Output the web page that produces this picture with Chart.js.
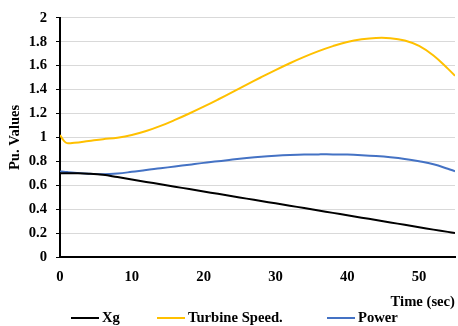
<!DOCTYPE html>
<html>
<head>
<meta charset="utf-8">
<script src="https://cdn.jsdelivr.net/npm/chart.js@4"></script>
<style>
  html, body { margin: 0; padding: 0; background: #fff; }
  #wrap { position: relative; width: 458px; height: 326px; }
  #chartBox { width: 458px; height: 311px; }
  #legend { position: absolute; left: 0; top: 309px; width: 458px; height: 17px;
            font: bold 14.67px 'Liberation Serif', 'Times New Roman', serif; color: #000; }
  .item { position: absolute; top: 0; height: 17px; display: flex; align-items: center; white-space: nowrap; }
  .swatch { width: 28px; height: 2px; margin-right: 3px; }
</style>
</head>
<body>
<div id="wrap">
  <div id="chartBox"><canvas id="myChart"></canvas></div>
  <div id="legend"></div>
</div>
<script>
// 시간축 (sec)
const times = [0, 0.5, 1, 2, 4, 6, 8, 10, 12, 14, 16, 18, 20, 22, 24, 26, 28, 30, 32, 34, 36, 38, 40, 42, 44, 46, 48, 50, 52, 54, 55];
// 각 시리즈 값 (Pu)
const xgValues = [0.70, 0.70, 0.70, 0.70, 0.697, 0.688, 0.668, 0.648, 0.628, 0.608, 0.588, 0.568, 0.548, 0.528, 0.508, 0.488, 0.468, 0.449, 0.429, 0.409, 0.389, 0.369, 0.349, 0.329, 0.309, 0.289, 0.269, 0.249, 0.229, 0.21, 0.20];
const speedValues = [1.02, 0.975, 0.952, 0.955, 0.97, 0.985, 0.998, 1.02, 1.053, 1.096, 1.146, 1.20, 1.257, 1.317, 1.379, 1.441, 1.503, 1.563, 1.62, 1.673, 1.721, 1.763, 1.798, 1.82, 1.832, 1.83, 1.81, 1.765, 1.685, 1.575, 1.515];
const powerValues = [0.715, 0.713, 0.71, 0.705, 0.697, 0.692, 0.698, 0.712, 0.728, 0.742, 0.757, 0.772, 0.787, 0.80, 0.815, 0.828, 0.839, 0.847, 0.853, 0.857, 0.858, 0.858, 0.856, 0.851, 0.844, 0.834, 0.82, 0.80, 0.775, 0.738, 0.717];
const seriesNames = ['Xg', 'Turbine Speed.', 'Power'];
const seriesColors = ['#000000', '#FFC000', '#4472C4'];
const yTicks = [0, 0.2, 0.4, 0.6, 0.8, 1, 1.2, 1.4, 1.6, 1.8, 2];
// 범례 항목 왼쪽 위치 (px)
const legendLeft = [71, 157, 327];

const toPoints = vals => vals.map((v, i) => ({ x: times[i], y: v }));
const font = size => ({ family: "'Liberation Serif', 'Times New Roman', serif", size, weight: 'bold' });

const ctx = document.querySelector('#myChart').getContext('2d');
const chart = new Chart(ctx, {
    type: 'line',
    data: {
        datasets: [xgValues, speedValues, powerValues].map((vals, i) => ({
            label: seriesNames[i],
            data: toPoints(vals),
            borderColor: seriesColors[i],
            backgroundColor: seriesColors[i],
            borderWidth: 2,
            pointRadius: 0,
            tension: 0.4
        }))
    },
    options: {
        responsive: true,
        maintainAspectRatio: false,
        animation: false,
        layout: { padding: { left: 0, right: 3, top: 17, bottom: 0 } },
        scales: {
            x: {
                type: 'linear',
                min: 0,
                max: 55,
                ticks: { stepSize: 10, includeBounds: false, color: '#000', font: font(14.67), padding: 11, maxRotation: 0 },
                grid: { drawOnChartArea: false, drawTicks: false },
                border: { color: '#000', width: 2 },
                title: { display: true, text: 'Time (sec)', align: 'end', color: '#000', font: font(14.67), padding: { top: 0, bottom: 0 } },
                afterFit: s => { s.height = 54; }
            },
            y: {
                min: 0,
                max: 2,
                afterBuildTicks: s => { s.ticks = yTicks.map(v => ({ value: v })); },
                ticks: { color: '#000', font: font(14.67), padding: 9, callback: v => String(v) },
                grid: { color: '#d9d9d9', tickColor: '#000', tickLength: 4, tickWidth: 1 },
                border: { color: '#000', width: 2 },
                title: { display: true, text: 'Pu. Values', color: '#000', font: font(14.67), padding: { top: 6, bottom: 0 } },
                afterFit: s => { s.width = 60; }
            }
        },
        plugins: {
            legend: { display: false },
            tooltip: { enabled: false }
        }
    }
});

// 차트 데이터셋으로 HTML 범례 생성
const legendBox = document.querySelector('#legend');
chart.data.datasets.forEach((ds, i) => {
    const item = document.createElement('div');
    item.className = 'item';
    item.style.left = legendLeft[i] + 'px';
    const swatch = document.createElement('span');
    swatch.className = 'swatch';
    swatch.style.background = ds.borderColor;
    const text = document.createElement('span');
    text.textContent = ds.label;
    item.appendChild(swatch);
    item.appendChild(text);
    legendBox.appendChild(item);
});
</script>
</body>
</html>
